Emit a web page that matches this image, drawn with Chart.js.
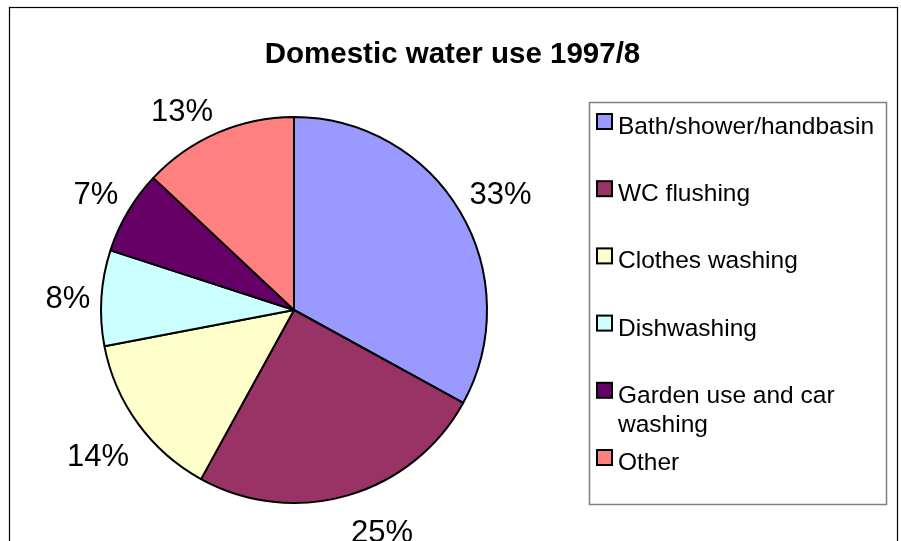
<!DOCTYPE html>
<html>
<head>
<meta charset="utf-8">
<script src="https://cdn.jsdelivr.net/npm/chart.js@4.4.1/dist/chart.umd.min.js"></script>
<style>
  html, body { margin: 0; padding: 0; background: #ffffff; }
  #wrap { width: 901px; height: 541px; position: relative; }
  canvas { display: block; }
</style>
</head>
<body>
<div id="wrap"><canvas id="c" width="901" height="541"></canvas></div>
<script>
const chartTitle = 'Domestic water use 1997/8';
const categories = ['Bath/shower/handbasin', 'WC flushing', 'Clothes washing', 'Dishwashing', 'Garden use and car washing', 'Other'];
const shares = [33, 25, 14, 8, 7, 13];
const sliceColors = ['#9999FF', '#993366', '#FFFFCC', '#CCFFFF', '#660066', '#FF8080'];

const FONT = '"Liberation Sans", Arial, Helvetica, sans-serif';

const framePlugin = {
  id: 'frame',
  beforeDraw(chart) {
    const ctx = chart.ctx;
    ctx.save();
    ctx.fillStyle = '#ffffff';
    ctx.fillRect(0, 0, chart.width, chart.height);
    // outer chart border (bottom edge falls outside the picture)
    ctx.strokeStyle = '#000000';
    ctx.lineWidth = 1.2;
    ctx.strokeRect(9.5, 7.5, 888, 600);
    // title
    ctx.fillStyle = '#000000';
    ctx.font = 'bold 29.5px ' + FONT;
    ctx.textAlign = 'center';
    ctx.textBaseline = 'alphabetic';
    ctx.fillText(chartTitle, 452.5, 63);
    ctx.restore();
  },
  afterDraw(chart) {
    const ctx = chart.ctx;
    ctx.save();
    // legend box
    ctx.strokeStyle = '#808080';
    ctx.lineWidth = 1.5;
    ctx.strokeRect(589.5, 102.5, 297, 402);
    ctx.font = '24.5px ' + FONT;
    ctx.textAlign = 'left';
    ctx.textBaseline = 'alphabetic';
    const maxW = 262;
    const pitch = 67.2;
    const lineH = 29;
    categories.forEach((label, i) => {
      const base = 134 + i * pitch;
      // swatch
      ctx.fillStyle = sliceColors[i];
      ctx.fillRect(597, base - 20, 15, 15);
      ctx.strokeStyle = '#000000';
      ctx.lineWidth = 2;
      ctx.strokeRect(597, base - 20, 15, 15);
      // wrap text
      const words = label.split(' ');
      const lines = [];
      let cur = '';
      words.forEach(w => {
        const test = cur ? cur + ' ' + w : w;
        if (ctx.measureText(test).width > maxW && cur) {
          lines.push(cur);
          cur = w;
        } else {
          cur = test;
        }
      });
      if (cur) lines.push(cur);
      ctx.fillStyle = '#000000';
      lines.forEach((ln, k) => ctx.fillText(ln, 618, base + k * lineH));
    });
    ctx.restore();
  },
  afterDatasetsDraw(chart) {
    const ctx = chart.ctx;
    const meta = chart.getDatasetMeta(0);
    const fs = 31;
    const capH = 0.716 * fs;
    ctx.save();
    ctx.font = fs + 'px ' + FONT;
    ctx.fillStyle = '#000000';
    meta.data.forEach((arc, i) => {
      const p = arc.getProps(['x', 'y', 'startAngle', 'endAngle', 'outerRadius'], true);
      const mid = (p.startAngle + p.endAngle) / 2;
      const cx = Math.cos(mid), sy = Math.sin(mid);
      const R = p.outerRadius + 11;
      const ax = p.x + R * cx;
      const ay = p.y + R * sy;
      let align = 'center';
      if (cx > 0.2) align = 'left';
      else if (cx < -0.2) align = 'right';
      let by;
      if (sy > 0.2) by = ay + 14 + capH;
      else if (sy < -0.2) by = ay - 2;
      else by = ay + capH / 2;
      ctx.textAlign = align;
      ctx.textBaseline = 'alphabetic';
      ctx.fillText(shares[i] + '%', ax, by);
    });
    ctx.restore();
  }
};

new Chart(document.getElementById('c'), {
  type: 'pie',
  data: {
    labels: categories,
    datasets: [{
      data: shares,
      backgroundColor: sliceColors,
      borderColor: '#000000',
      borderWidth: 2,
      hoverOffset: 0
    }]
  },
  options: {
    responsive: false,
    animation: false,
    devicePixelRatio: 1,
    radius: 193,
    layout: { padding: { left: 100, right: 413, top: 117, bottom: 38 } },
    plugins: {
      legend: { display: false },
      title: { display: false },
      tooltip: { enabled: false }
    }
  },
  plugins: [framePlugin]
});
</script>
</body>
</html>
